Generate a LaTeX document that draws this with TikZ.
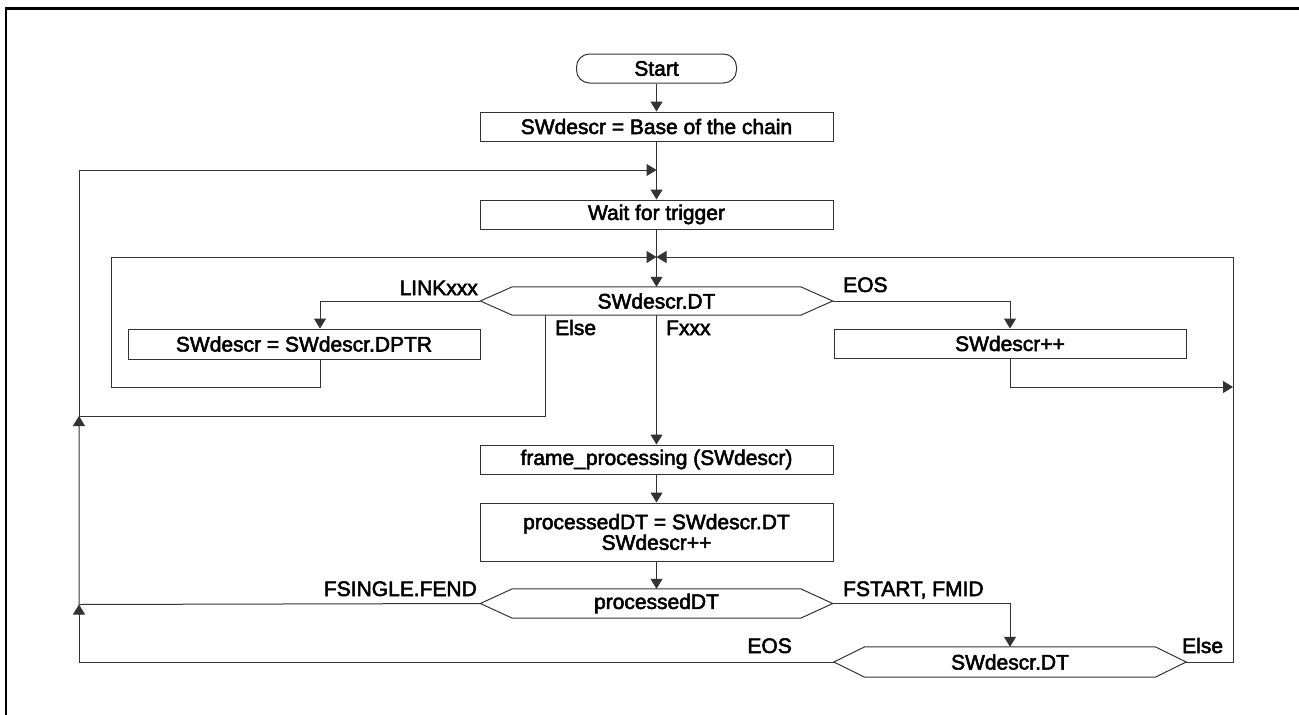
\documentclass[tikz,border=0pt]{standalone}
\usepackage{fontspec}
\setmainfont{Liberation Sans}
\newfontfamily\dfont{Liberation Sans}[FakeBold=2.5]
\usetikzlibrary{arrows.meta,calc}
\begin{document}
\begin{tikzpicture}[x=1pt,y=-1pt,
  font=\dfont\fontsize{21}{24}\selectfont,
  box/.style={draw=black!80,line width=1pt,minimum width=353pt,minimum height=29pt,inner sep=0pt},
  dec/.style={minimum width=352pt,minimum height=29pt,inner sep=0pt},
  shp/.style={draw=black!80,line width=1pt},
  con/.style={draw=black!80,line width=1pt},
  arr/.style={con,-{Triangle[length=10pt,width=12pt]}},
  lbl/.style={inner sep=0pt}
]
\useasboundingbox (0,0) rectangle (1299,715);
% frame (clipped at right and bottom)
\draw[line width=2.2pt,black] (6,715) -- (6,8.5) -- (1299,8.5);

% nodes
\node[box,minimum width=160pt,rounded corners=13pt] (start) at (656.5,68.5) {Start};
\node[box] (b1) at (656.5,126.5) {SWdescr = Base of the chain};
\node[box] (wait) at (656.5,214.5) {Wait for trigger};
\node[dec,minimum height=28pt] (d1) at (656.5,301) {SWdescr.DT};
\node[box,minimum width=352pt,minimum height=30pt] (dptr) at (304,344) {SWdescr = SWdescr.DPTR};
\node[box,minimum width=352pt] (inc) at (1010,343.5) {SWdescr++};
\node[box] (fp) at (656.5,459.5) {frame\_processing (SWdescr)};
\node[box,minimum height=58pt,align=center,font=\dfont\fontsize{21}{17}\selectfont] (pdt) at (656.5,532) {processedDT = SWdescr.DT\\SWdescr++};
\node[dec] (d2) at (656.5,603.5) {processedDT};
\node[dec,minimum height=30pt] (d3) at (1010,662) {SWdescr.DT};

% hexagon outlines
\draw[shp] (d1.west) -- ([xshift=32pt]d1.north west) -- ([xshift=-32pt]d1.north east) -- (d1.east) -- ([xshift=-32pt]d1.south east) -- ([xshift=32pt]d1.south west) -- cycle;
\draw[shp] (d2.west) -- ([xshift=32pt]d2.north west) -- ([xshift=-32pt]d2.north east) -- (d2.east) -- ([xshift=-32pt]d2.south east) -- ([xshift=32pt]d2.south west) -- cycle;
\draw[shp] (d3.west) -- ([xshift=31pt]d3.north west) -- ([xshift=-31pt]d3.north east) -- (d3.east) -- ([xshift=-31pt]d3.south east) -- ([xshift=31pt]d3.south west) -- cycle;

% labels
\node[lbl,anchor=base east] (lk) at (478,295) {LINKxxx};
\node[lbl,anchor=base west] (el1) at (555,335) {Else};
\node[lbl,anchor=base west] (fx) at (666,335) {Fxxx};
\node[lbl,anchor=base west] (eos1) at (843,292) {EOS};
\node[lbl,anchor=base east] (fs) at (477,596) {FSINGLE.FEND};
\node[lbl,anchor=base west] (fst) at (843,596) {FSTART, FMID};
\node[lbl,anchor=base east] (eos2) at (792,653) {EOS};
\node[lbl,anchor=base west] (el2) at (1182,653) {Else};

% junction coordinates
\coordinate (m1) at (656.5,170);
\coordinate (m2) at (656.5,257);
\coordinate (dl) at (320,344);
\coordinate (p1) at (320,387);
\coordinate (p2) at (111,387);
\coordinate (p3) at (111,257);
\coordinate (e0) at (545,315);
\coordinate (e1) at (545,416);
\coordinate (e2) at (79,416);
\coordinate (topl) at (79,170);
\coordinate (f1) at (79,604.5);
\coordinate (g1) at (79,662);
\coordinate (r1) at (1233,387);
\coordinate (r2) at (1233,662);
\coordinate (r3) at (1233,257);

% connectors
\draw[arr] (start) -- (b1);
\draw[arr] (b1) -- (wait);
\draw[arr] (wait) -- (d1);
\draw[arr] (d1.west) -| (dl |- dptr.north);
\draw[arr] (dl |- dptr.south) -- (p1) -- (p2) -- (p3) -- (m2);
\draw[con] (e0) -- (e1) -- (e2);
\draw[arr] (e2) -- (topl) -- (m1);
\draw[arr] (d2.west) -- (f1) -- (e2);
\draw[arr] (d3.west) -- (g1) -- (f1);
\draw[arr] (d1) -- (fp);
\draw[arr] (d1.east) -| (inc.north);
\draw[arr] (inc.south) |- (r1);
\draw[arr] (fp) -- (pdt);
\draw[arr] (pdt) -- (d2);
\draw[arr] (d2.east) -| (d3.north);
\draw[arr] (d3.east) -- (r2) -- (r3) -- (m2);
\end{tikzpicture}
\end{document}
